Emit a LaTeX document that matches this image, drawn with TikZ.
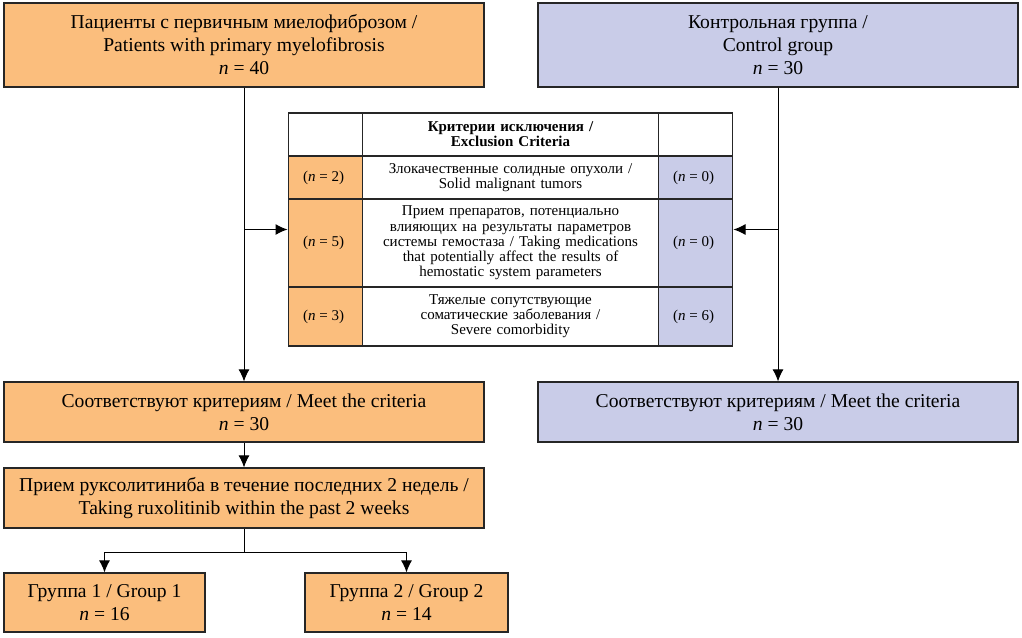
\documentclass[tikz,border=0pt]{standalone}
\usepackage{fontspec}
\setmainfont{Liberation Serif}
\usetikzlibrary{matrix,positioning,arrows.meta}
\definecolor{pmfcol}{RGB}{251,190,125}
\definecolor{ctrlcol}{RGB}{201,204,232}
\newcommand{\nval}[1]{\textit{n}~=~#1}
\newcommand{\nexc}[1]{(\textit{n}~=~#1)}
\tikzset{
  box/.style={draw=black!85, line width=0.6pt, align=center, inner sep=2pt,
    font=\fontsize{9.8}{11.5}\selectfont},
  pmfbox/.style={box, fill=pmfcol},
  ctrlbox/.style={box, fill=ctrlcol},
  arr/.style={-{Latex[length=6pt,width=5.5pt]}, line width=0.5pt}
}

\begin{document}
\begin{tikzpicture}[x=0.5pt,y=-0.5pt]
      \useasboundingbox (0,0) rectangle (1022,637);
      % start groups
      \node[pmfbox, minimum width=240pt, minimum height=42pt] (pmf) at (244,45)
        {Пациенты с первичным миелофиброзом /\\ Patients with primary myelofibrosis\\ \nval{40}};
      \node[ctrlbox, minimum width=240pt, minimum height=42pt] (ctrl) at (778,45)
        {Контрольная группа /\\ Control group\\ \nval{30}};
      % exclusion table
      \matrix[matrix of nodes, nodes in empty cells, ampersand replacement=\&,
        inner sep=0pt, column sep=-0.6pt, row sep=-0.6pt,
        nodes={draw=black!85, line width=0.6pt, align=center, inner sep=1pt,
          anchor=center, font=\fontsize{7.5}{7.6}\selectfont},
        column 1/.style={nodes={fill=pmfcol, minimum width=37pt}},
        column 2/.style={nodes={fill=white, text width=146pt}},
        column 3/.style={nodes={fill=ctrlcol, minimum width=37pt}},
        row 1/.style={nodes={fill=white, minimum height=21.5pt}},
        row 2/.style={nodes={minimum height=21.5pt}},
        row 3/.style={nodes={minimum height=44pt}},
        row 4/.style={nodes={minimum height=29.5pt}}] (tbl) at (510.5,229.5) {
        \& {\bfseries Критерии исключения /\\ Exclusion Criteria} \& \\
        \nexc{2} \& {Злокачественные солидные опухоли /\\ Solid malignant tumors} \& \nexc{0} \\
        \nexc{5} \& {Прием препаратов, потенциально\\ влияющих на результаты параметров\\ системы гемостаза / Taking medications\\ that potentially affect the results of\\ hemostatic system parameters} \& \nexc{0} \\
        \nexc{3} \& {Тяжелые сопутствующие\\ соматические заболевания /\\ Severe comorbidity} \& \nexc{6} \\
      };
      % after exclusion
      \node[pmfbox, minimum width=240pt, minimum height=30pt] (meetL) at (244,412)
        {Соответствуют критериям / Meet the criteria\\ \nval{30}};
      \node[ctrlbox, minimum width=240pt, minimum height=30pt] (meetR) at (778,412)
        {Соответствуют критериям / Meet the criteria\\ \nval{30}};
      \node[pmfbox, minimum width=240pt, minimum height=30pt] (rux) at (244,498)
        {Прием руксолитиниба в течение последних 2 недель /\\ Taking ruxolitinib within the past 2 weeks};
      \node[pmfbox, minimum width=100.5pt, minimum height=29.5pt] (g1) at (104.5,602.5)
        {Группа 1 / Group 1\\ \nval{16}};
      \node[pmfbox, minimum width=101.5pt, minimum height=29.5pt] (g2) at (406.5,602.5)
        {Группа 2 / Group 2\\ \nval{14}};
      \coordinate (split) at (244,552);
      % connectors
      \path[arr] (pmf) edge (meetL);
      \path[arr] (ctrl) edge (meetR);
      \draw[arr] (pmf.south |- tbl.west) -- (tbl.west);
      \draw[arr] (ctrl.south |- tbl.east) -- (tbl.east);
      \path[arr] (meetL) edge (rux);
      \draw[line width=0.5pt] (rux.south) -- (split);
      \draw[arr] (split) -| (g1);
      \draw[arr] (split) -| (g2);
\end{tikzpicture}
\end{document}
